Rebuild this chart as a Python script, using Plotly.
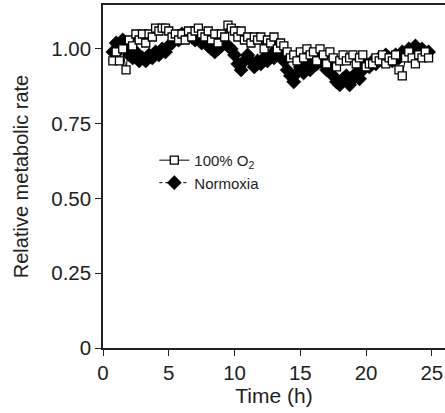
import plotly.graph_objects as go

o2 = [0.96, 0.99, 0.96, 1.00, 0.93, 1.03, 1.01, 1.05, 1.03, 1.05,
      1.02, 1.05, 1.04, 1.07, 1.06, 1.07, 1.07, 1.06, 1.04, 1.05,
      1.03, 1.05, 1.03, 1.06, 1.04, 1.06, 1.07, 1.05, 1.04, 1.06,
      1.03, 1.05, 1.02, 1.05, 1.04, 1.08, 1.07, 1.06, 1.04, 1.06,
      1.03, 1.04, 1.02, 1.04, 1.03, 1.04, 1.00, 1.03, 1.02, 1.04,
      1.00, 1.02, 1.01, 0.99, 0.97, 0.98, 0.96, 0.99, 0.97, 1.00,
      0.98, 0.99, 0.96, 1.00, 0.98, 0.95, 0.99, 0.97, 0.94, 0.96,
      0.98, 0.96, 0.97, 0.98, 0.95, 0.97, 0.98, 0.94, 0.95, 0.95,
      0.97, 0.96, 0.98, 0.95, 0.97, 0.96, 0.98, 0.93, 0.91, 0.97,
      0.99, 0.97, 0.95, 0.98, 0.97, 0.99, 0.97]

normoxia = [0.99, 1.02, 1.00, 1.03, 1.01, 0.98, 0.97, 0.99, 0.96, 0.97,
            0.96, 0.98, 0.97, 0.99, 0.98, 1.00, 0.99, 1.01, 1.02, 1.04,
            1.03, 1.05, 1.04, 1.05, 1.04, 1.03, 1.04, 1.02, 1.03, 1.01,
            1.00, 0.99, 1.00, 1.01, 1.02, 1.01, 1.00, 0.98, 0.95, 0.93,
            0.96, 0.98, 0.96, 0.94, 0.96, 0.95, 0.97, 0.96, 0.98, 0.97,
            1.00, 0.98, 0.96, 0.93, 0.91, 0.89, 0.92, 0.94, 0.92, 0.95,
            0.93, 0.96, 0.95, 0.97, 0.95, 0.93, 0.94, 0.91, 0.89, 0.88,
            0.90, 0.91, 0.88, 0.90, 0.92, 0.90, 0.93, 0.95, 0.94, 0.96,
            0.95, 0.97, 0.96, 0.98, 0.97, 0.96, 0.98, 0.97, 0.99, 0.98,
            1.00, 0.99, 1.01, 0.99, 1.00, 0.98, 0.99]

start_h = 0.75
step_h = 0.25
time_o2 = [start_h + step_h * i for i in range(len(o2))]
time_norm = [start_h + step_h * i for i in range(len(normoxia))]

y_ticks = [0, 0.25, 0.5, 0.75, 1.0]
y_tick_labels = ["0", "0.25", "0.50", "0.75", "1.00"]
x_ticks = [0, 5, 10, 15, 20, 25]

FONT = "Arial, Liberation Sans, sans-serif"

fig = go.Figure()
fig.add_trace(go.Scatter(
    x=time_norm, y=normoxia, name="Normoxia", mode="lines+markers",
    line=dict(color="black", width=1, dash="dot"),
    marker=dict(symbol="diamond", size=11, color="black",
                line=dict(color="black", width=0.5)),
))
fig.add_trace(go.Scatter(
    x=time_o2, y=o2, name="100% O<sub>2</sub>", mode="lines+markers",
    line=dict(color="black", width=1),
    marker=dict(symbol="square", size=8, color="white",
                line=dict(color="black", width=1.3)),
))

fig.update_layout(
    width=445, height=413,
    margin=dict(l=103, r=0, t=5, b=65),
    paper_bgcolor="white", plot_bgcolor="white",
    font=dict(family=FONT, color="#222", size=20),
    showlegend=True,
    legend=dict(x=0.15, y=0.595, xanchor="left", yanchor="top",
                traceorder="reversed", bgcolor="rgba(0,0,0,0)",
                font=dict(size=15, family=FONT, color="#222"),
                itemwidth=30),
    xaxis=dict(range=[0, 26], tickvals=x_ticks, ticks="outside", ticklen=6,
               tickcolor="#222", showline=True, linecolor="#222", linewidth=1.5,
               mirror=True, showgrid=False, zeroline=False, automargin=False,
               title=dict(text="Time (h)", font=dict(size=21), standoff=4),
               tickfont=dict(size=20.5)),
    yaxis=dict(range=[0, 1.147], tickvals=y_ticks, ticktext=y_tick_labels,
               ticks="outside", ticklen=6, tickcolor="#222",
               showline=True, linecolor="#222", linewidth=1.5,
               showgrid=False, zeroline=False, automargin=False,
               title=dict(text="Relative metabolic rate", font=dict(size=20), standoff=17),
               tickfont=dict(size=20.5)),
)

fig.write_html("out.html", config={"displayModeBar": False},
               post_script="document.body.style.margin='0';")
